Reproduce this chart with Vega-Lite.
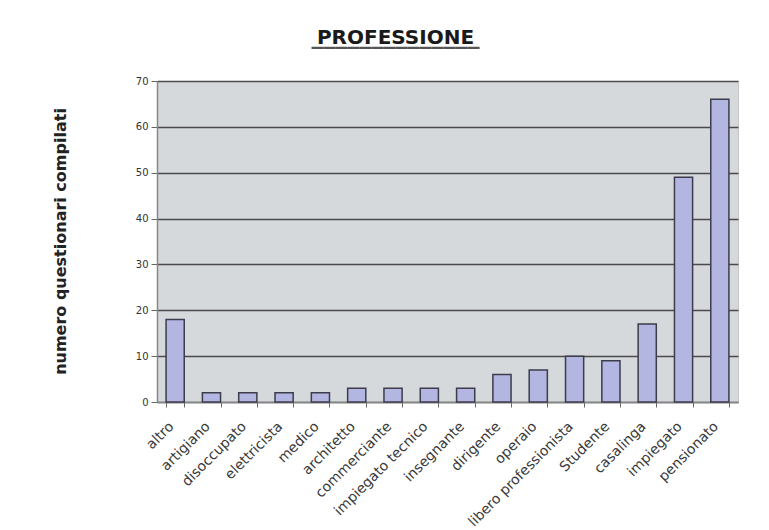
{
  "$schema": "https://vega.github.io/schema/vega-lite/v6.json",
  "autosize": "none",
  "width": 581,
  "height": 321,
  "padding": {"left": 157, "top": 81, "right": 31, "bottom": 128},
  "background": "white",
  "title": {
    "text": "PROFESSIONE",
    "subtitle": "______________",
    "font": "DejaVu Sans",
    "fontSize": 20,
    "fontWeight": "bold",
    "color": "#1a1a1a",
    "subtitleFont": "DejaVu Sans",
    "subtitleFontSize": 24,
    "subtitleFontWeight": "bold",
    "subtitleColor": "#555555",
    "subtitlePadding": -24,
    "anchor": "middle",
    "dx": -52,
    "offset": 24
  },
  "data": {
    "values": [
      {"professione": "altro", "questionari": 18},
      {"professione": "artigiano", "questionari": 2},
      {"professione": "disoccupato", "questionari": 2},
      {"professione": "elettricista", "questionari": 2},
      {"professione": "medico", "questionari": 2},
      {"professione": "architetto", "questionari": 3},
      {"professione": "commerciante", "questionari": 3},
      {"professione": "impiegato tecnico", "questionari": 3},
      {"professione": "insegnante", "questionari": 3},
      {"professione": "dirigente", "questionari": 6},
      {"professione": "operaio", "questionari": 7},
      {"professione": "libero professionista", "questionari": 10},
      {"professione": "Studente", "questionari": 9},
      {"professione": "casalinga", "questionari": 17},
      {"professione": "impiegato", "questionari": 49},
      {"professione": "pensionato", "questionari": 66}
    ]
  },
  "mark": {
    "type": "bar",
    "fill": "#b3b6e0",
    "stroke": "#3c3c4c",
    "strokeWidth": 1.5
  },
  "encoding": {
    "x": {
      "field": "professione",
      "type": "nominal",
      "sort": null,
      "scale": {"paddingInner": 0.5, "paddingOuter": 0.25},
      "axis": {
        "title": null,
        "labelAngle": -45,
        "labelAlign": "right",
        "labelBaseline": "middle",
        "labelFont": "DejaVu Sans",
        "labelFontSize": 14,
        "labelColor": "#3a3a3a",
        "labelPadding": 17,
        "labelOffset": -4,
        "tickBand": "extent",
        "tickSize": 5,
        "tickColor": "#666",
        "domainColor": "#888",
        "domainWidth": 1.5,
        "grid": false
      }
    },
    "y": {
      "field": "questionari",
      "type": "quantitative",
      "scale": {"domain": [0, 70], "nice": false},
      "axis": {
        "title": "numero questionari compilati",
        "titleFont": "DejaVu Sans",
        "titleFontSize": 16,
        "titleFontWeight": "bold",
        "titleColor": "#222",
        "titleAngle": -90,
        "titleAlign": "center",
        "titleBaseline": "middle",
        "titleX": -97,
        "titleY": 160,
        "values": [0, 10, 20, 30, 40, 50, 60, 70],
        "labelFont": "DejaVu Sans",
        "labelFontSize": 10,
        "labelColor": "#333",
        "labelPadding": 3,
        "tickSize": 6,
        "tickColor": "#666",
        "domainColor": "#888",
        "domainWidth": 1.5,
        "grid": true,
        "gridColor": "#4a4a4a",
        "gridWidth": 1.5
      }
    }
  },
  "config": {
    "view": {"fill": "#d6d9dc", "stroke": "#c4c6c8", "strokeWidth": 1}
  }
}
